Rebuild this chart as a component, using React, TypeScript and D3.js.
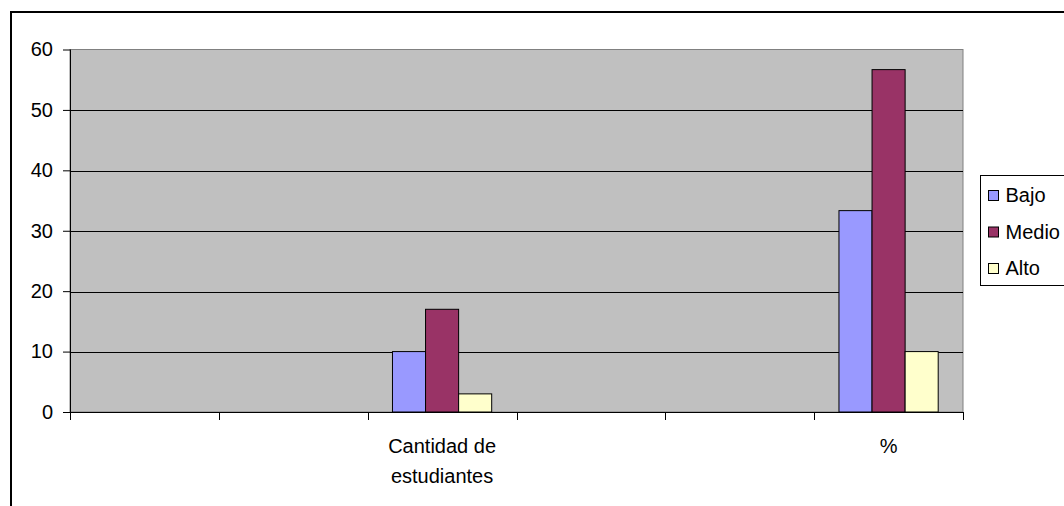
import * as d3 from "d3";
import { useEffect, useRef } from "react";

const W = 1064;
const H = 506;

const margin = { top: 49.5, left: 70, right: 101, bottom: 94 };

// the sheet had blank columns, so only two of the six categories carry data
const categories = ["", "", "Cantidad de estudiantes", "", "", "%"];
const seriesNames = ["Bajo", "Medio", "Alto"];
const seriesColors = ["#9999FF", "#993366", "#FFFFCC"];
const bajo = [null, null, 10, null, null, 33.33];
const medio = [null, null, 17, null, null, 56.67];
const alto = [null, null, 3, null, null, 10];
const yTicks = [0, 10, 20, 30, 40, 50, 60];

const font = "'Liberation Sans', Arial, sans-serif";
const fontSize = 20;

export default function App() {
	const ref = useRef<SVGSVGElement>(null);

	useEffect(() => {
		const svg = d3.select(ref.current);
		svg.selectAll("*").remove();

		const innerW = W - margin.left - margin.right;
		const innerH = H - margin.top - margin.bottom;
		const values = [bajo, medio, alto];

		const x = d3.scaleBand<number>()
			.domain(categories.map((_, i) => i))
			.range([0, innerW])
			.padding(0);

		const xs = d3.scaleBand<number>()
			.domain(seriesNames.map((_, i) => i))
			.range([0, x.bandwidth()])
			.paddingInner(0)
			.paddingOuter(0.75);

		const y = d3.scaleLinear().domain([0, 60]).range([innerH, 0]);

		// outer chart border
		svg.append("path")
			.attr("d", `M11,${H + 5} V12 H${W + 5}`)
			.attr("fill", "none")
			.attr("stroke", "#000")
			.attr("stroke-width", 2);

		const g = svg.append("g").attr("transform", `translate(${margin.left},${margin.top})`);

		g.append("rect")
			.attr("width", innerW)
			.attr("height", innerH)
			.attr("fill", "#C0C0C0")
			.attr("stroke", "#808080")
			.attr("stroke-width", 1);

		g.selectAll(".grid")
			.data(yTicks.filter(t => t > 0 && t < 60))
			.enter()
			.append("line")
			.attr("x1", 0)
			.attr("x2", innerW)
			.attr("y1", d => Math.round(y(d)) + 0.5)
			.attr("y2", d => Math.round(y(d)) + 0.5)
			.attr("stroke", "#000")
			.attr("shape-rendering", "crispEdges");

		values.forEach((vals, si) => {
			g.selectAll(`.bar-${si}`)
				.data(vals.map((v, i) => ({ v, i })).filter(d => d.v !== null))
				.enter()
				.append("rect")
				.attr("x", d => x(d.i)! + xs(si)!)
				.attr("y", d => y(d.v as number))
				.attr("width", xs.bandwidth())
				.attr("height", d => innerH - y(d.v as number))
				.attr("fill", seriesColors[si])
				.attr("stroke", "#000")
				.attr("stroke-width", 1);
		});

		// y axis
		const yAxis = d3.axisLeft(y).tickValues(yTicks).tickSize(7).tickPadding(10);
		const ya = g.append("g").call(yAxis);
		ya.select(".domain").attr("stroke", "#000").attr("d", `M0.5,0V${innerH}`);
		ya.selectAll("text")
			.attr("font-family", font)
			.attr("font-size", fontSize)
			.attr("fill", "#000");

		// x axis with ticks at category boundaries
		const xa = g.append("g").attr("transform", `translate(0,${innerH})`);
		xa.append("line")
			.attr("x1", -7).attr("x2", innerW)
			.attr("y1", 0.5).attr("y2", 0.5)
			.attr("stroke", "#000");
		const bounds = categories.map((_, i) => x(i)!).concat([innerW]);
		xa.selectAll(".xtick")
			.data(bounds)
			.enter()
			.append("line")
			.attr("x1", d => Math.round(d) + 0.5)
			.attr("x2", d => Math.round(d) + 0.5)
			.attr("y1", 0)
			.attr("y2", 8)
			.attr("stroke", "#000");

		categories.forEach((c, i) => {
			if (!c) return;
			const cx = x(i)! + x.bandwidth() / 2;
			const t = xa.append("text")
				.attr("x", cx)
				.attr("y", 41)
				.attr("text-anchor", "middle")
				.attr("font-family", font)
				.attr("font-size", fontSize)
				.attr("fill", "#000");
			const words = c.split(" ");
			let line: string[] = [];
			let tspan = t.append("tspan").attr("x", cx).attr("dy", 0);
			words.forEach(w => {
				line.push(w);
				tspan.text(line.join(" "));
				if ((tspan.node() as SVGTSpanElement).getComputedTextLength() > x.bandwidth() * 0.85 && line.length > 1) {
					line.pop();
					tspan.text(line.join(" "));
					line = [w];
					tspan = t.append("tspan").attr("x", cx).attr("dy", 30).text(w);
				}
			});
		});

		// legend
		const lg = svg.append("g").attr("transform", "translate(980.5,175.5)");
		lg.append("rect")
			.attr("width", 84)
			.attr("height", 110)
			.attr("fill", "#fff")
			.attr("stroke", "#000");
		seriesNames.forEach((s, i) => {
			lg.append("rect")
				.attr("x", 8)
				.attr("y", 15 + i * 36.5)
				.attr("width", 10)
				.attr("height", 10)
				.attr("fill", seriesColors[i])
				.attr("stroke", "#000");
			lg.append("text")
				.attr("x", 25)
				.attr("y", 26.5 + i * 36.5)
				.attr("font-family", font)
				.attr("font-size", fontSize)
				.attr("fill", "#000")
				.text(s);
		});
	}, []);

	return (
		<div>
			<style>{`body{margin:0;overflow:hidden}`}</style>
			<svg ref={ref} width={W} height={H} style={{ display: "block", background: "#fff" }} />
		</div>
	);
}
